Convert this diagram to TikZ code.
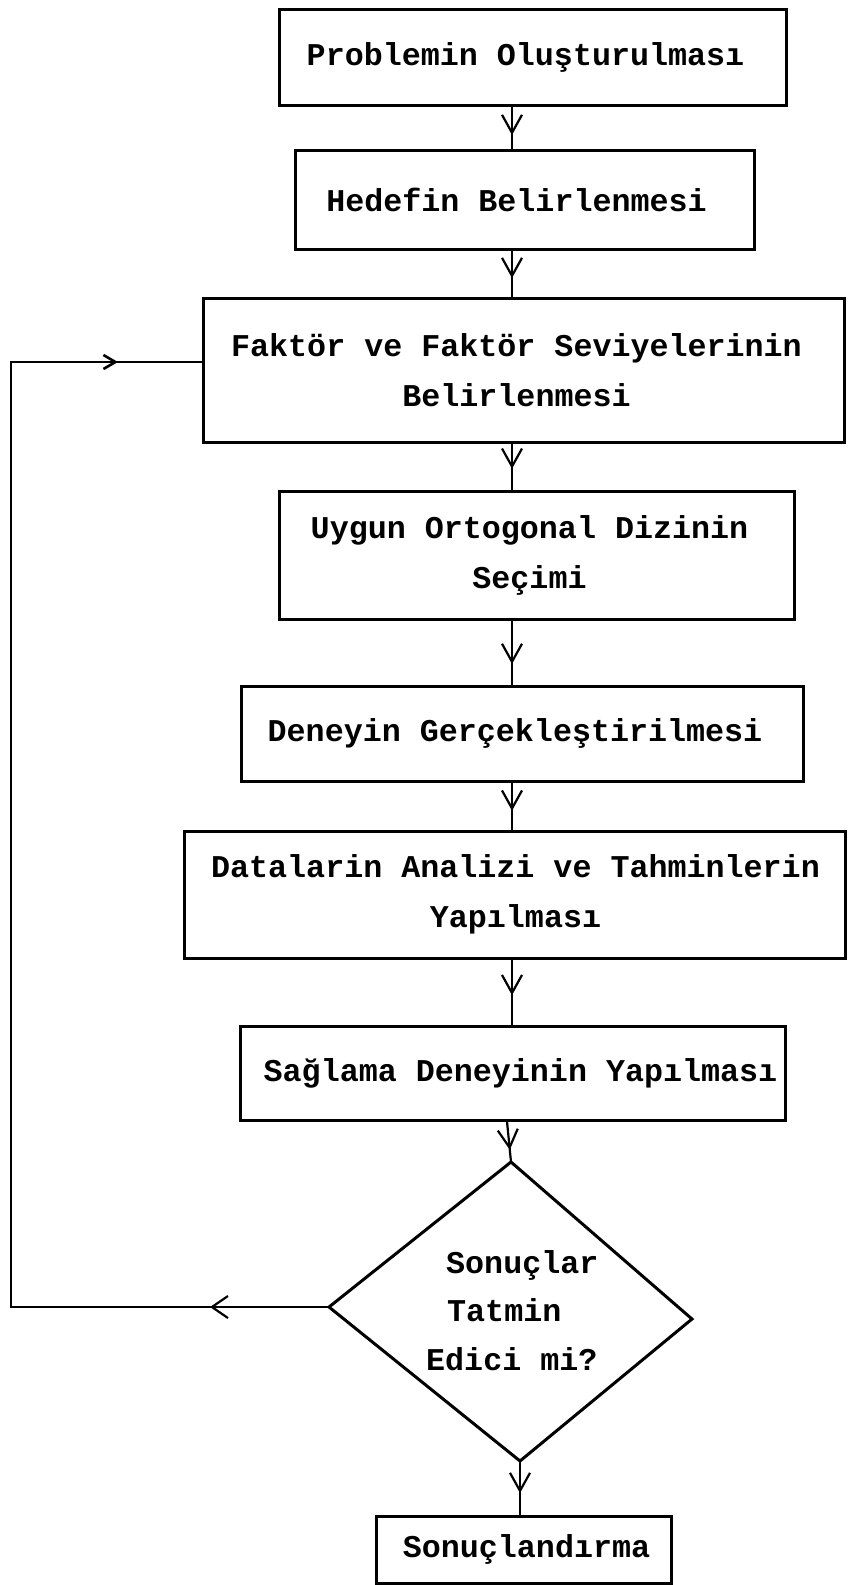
\documentclass[tikz,border=0pt]{standalone}
\usepackage{fontspec}
\setmonofont{Liberation Mono}
\usetikzlibrary{arrows.meta,decorations.markings}
\newcommand\dgfont{\ttfamily\bfseries\fontsize{31.7}{50}\selectfont}
\begin{document}
\begin{tikzpicture}[x=1pt,y=-1pt,
  box/.style={draw, line width=3pt, inner sep=0pt},
  txt/.style={font=\dgfont, align=center, inner sep=0pt},
  flow/.style={line width=2.2pt, postaction={decorate},
    decoration={markings, mark=at position #1 with {\arrow{Straight Barb[length=18pt,width=20pt,line width=2.2pt]}}}},
  flow/.default=0.65,
  loopflow/.style={line width=2.2pt, line join=miter, postaction={decorate},
    decoration={markings,
      mark=at position 119pt with {\arrow{Straight Barb[length=16pt,width=22pt,line width=2.2pt]}},
      mark=at position 1370pt with {\arrow{Straight Barb[length=12pt,width=14pt,line width=2.6pt]}}}},
  dtext/.style={font=\dgfont, anchor=west, inner sep=0pt}
]
\useasboundingbox (0,0) rectangle (847,1585);

% boxes
\node[box, minimum width=507pt, minimum height=96pt] (b1) at (532.5,57) {};
\node[txt, xshift=-7pt] (t1) at (b1.center) {Problemin Oluşturulması};
\node[box, minimum width=459pt, minimum height=99pt] (b2) at (524.5,199.5) {};
\node[txt, xshift=-8pt] (t2) at (b2.center) {Hedefin Belirlenmesi};
\node[box, minimum width=641pt, minimum height=144pt] (b3) at (523.5,370) {};
\node[txt, xshift=-7pt] (t3) at (b3.center) {Faktör ve Faktör Seviyelerinin\\Belirlenmesi};
\node[box, minimum width=515pt, minimum height=128pt] (b4) at (536.5,555) {};
\node[txt, xshift=-7pt] (t4) at (b4.center) {Uygun Ortogonal Dizinin\\Seçimi};
\node[box, minimum width=562pt, minimum height=95pt] (b5) at (522,733.5) {};
\node[txt, xshift=-7pt] (t5) at (b5.center) {Deneyin Gerçekleştirilmesi};
\node[box, minimum width=661pt, minimum height=127pt] (b6) at (514.5,894.5) {};
\node[txt, xshift=1pt] (t6) at (b6.center) {Datalarin Analizi ve Tahminlerin\\Yapılması};
\node[box, minimum width=545pt, minimum height=94pt] (b7) at (512.5,1073) {};
\node[txt, xshift=8pt] (t7) at (b7.center) {Sağlama Deneyinin Yapılması};
\node[box, minimum width=295pt, minimum height=67pt] (b8) at (523.5,1549.5) {};
\node[txt, xshift=3pt] (t8) at (b8.center) {Sonuçlandırma};

% decision diamond
\coordinate (dt) at (511,1162);
\coordinate (dr) at (692,1319);
\coordinate (db) at (520,1461);
\coordinate (dl) at (329,1307);
\draw[line width=3pt, line join=miter] (dt) -- (dr) -- (db) -- (dl) -- cycle;
\node[dtext] (q1) at (446,1265) {Sonuçlar};
\node[dtext] (q2) at (447,1310) {Tatmin};
\node[dtext] (q3) at (426,1359) {Edici mi?};

% spine
\coordinate (sp) at (512,0);
\coordinate (sp2) at (507,0);
\coordinate (sp3) at (520,0);
\draw[flow=0.68] (b1.south -| sp) -- (b2.north -| sp);
\draw[flow=0.6] (b2.south -| sp) -- (b3.north -| sp);
\draw[flow=0.55] (b3.south -| sp) -- (b4.north -| sp);
\draw[flow=0.68] (b4.south -| sp) -- (b5.north -| sp);
\draw[flow=0.6] (b5.south -| sp) -- (b6.north -| sp);
\draw[flow=0.55] (b6.south -| sp) -- (b7.north -| sp);
\draw[flow=0.7] (b7.south -| sp2) -- (dt);
\draw[flow=0.6] (db) -- (b8.north -| sp3);

% loop back
\coordinate (lb) at (11,1307);
\coordinate (lt) at (11,362);
\draw[loopflow] (dl) -- (lb) -- (lt) -- (lt -| b3.west);
\end{tikzpicture}
\end{document}
